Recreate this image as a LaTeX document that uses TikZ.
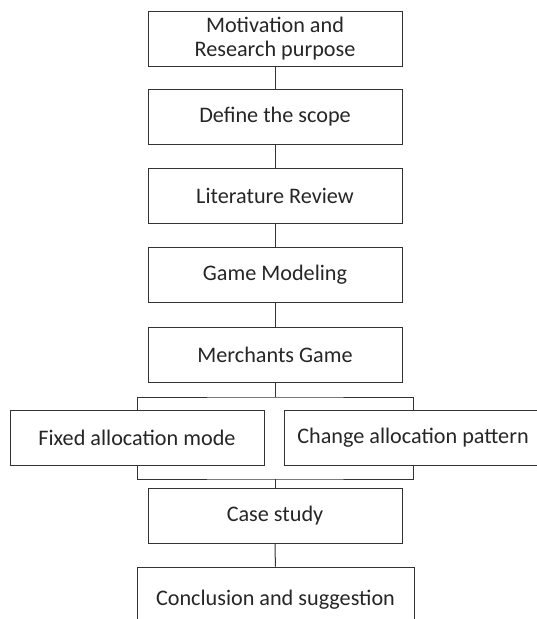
\documentclass[tikz,border=0pt]{standalone}
\usepackage{fontspec}
\setmainfont{Carlito}

\begin{document}
\begin{tikzpicture}[x=1pt,y=-1pt,
  stage/.style={draw=black!80, line width=1pt, minimum width=254pt, minimum height=55pt,
    inner sep=0pt, align=center, text=black!85, font=\fontsize{22.2}{23.5}\selectfont},
  link/.style={draw=black!80, line width=1pt}]
	\clip (0,0) rectangle (537,619);
	\node[stage] (motiv) at (275,38.5) {Motivation and\\Research purpose};
	\node[stage] (scope) at (275,116.5) {Define the scope};
	\node[stage] (review) at (275,195.5) {Literature Review};
	\node[stage] (model) at (275,275) {Game Modeling};
	\node[stage] (merch) at (275,354.5) {Merchants Game};
	\node[stage] (fixed) at (137,437.5) {Fixed allocation mode};
	\node[stage, minimum width=258pt] (change) at (413,437.5) {Change allocation pattern};
	\node[stage] (case) at (275,515.5) {Case study};
	\node[stage, minimum width=277pt, minimum height=66pt] (concl) at (275.5,600) {Conclusion and suggestion};
	\coordinate (split) at (275,397);
	\coordinate (merge) at (275,479);
	\draw[link] (motiv) -- (scope);
	\draw[link] (scope) -- (review);
	\draw[link] (review) -- (model);
	\draw[link] (model) -- (merch);
	\draw[link] (merch) -- (split);
	\draw[link] (fixed.north) |- (split) -| (change.north);
	\draw[link] (fixed.south) |- (merge) -| (change.south);
	\draw[link] (merge) -- (case);
	\draw[link] (case) -- (concl);
\end{tikzpicture}
\end{document}
